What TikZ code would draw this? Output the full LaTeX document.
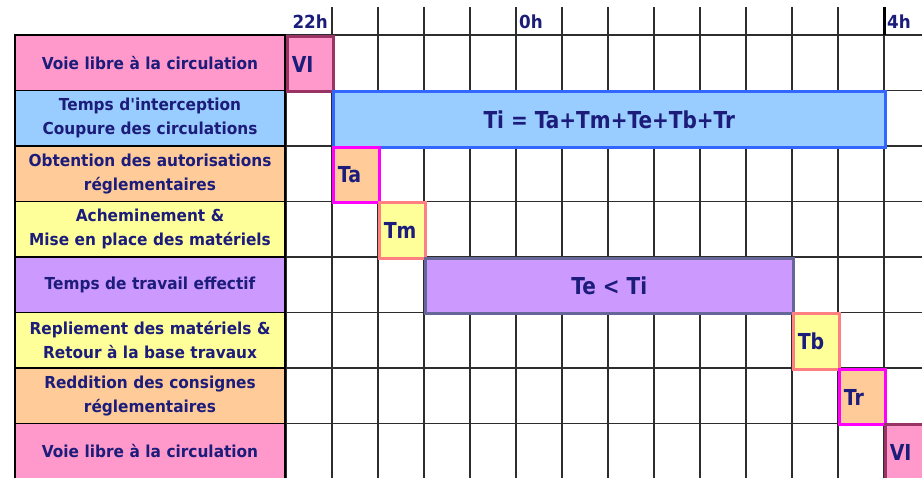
\documentclass[tikz,border=0pt]{standalone}
\usepackage{fontspec}
\newfontfamily\labfont{DejaVu Sans Bold}[FakeStretch=0.93]
\newfontfamily\barfont{DejaVu Sans Bold}[FakeStretch=0.86]
\definecolor{navytxt}{RGB}{28,28,122}
\definecolor{gridc}{RGB}{45,45,45}
\definecolor{pinkf}{RGB}{255,153,204}
\definecolor{pinkd}{RGB}{153,51,102}
\definecolor{bluef}{RGB}{153,204,255}
\definecolor{blued}{RGB}{51,102,255}
\definecolor{orangef}{RGB}{255,204,153}
\definecolor{magd}{RGB}{255,0,255}
\definecolor{yellowf}{RGB}{255,255,153}
\definecolor{salmond}{RGB}{255,128,128}
\definecolor{lavf}{RGB}{204,153,255}
\definecolor{slated}{RGB}{102,102,153}
\tikzset{
  gridline/.style={draw=gridc, line width=1.4pt},
  labbox/.style={draw=black, line width=1.4pt, minimum width=270, minimum height=55.5,
    text width=266, align=center, inner sep=0pt, text=navytxt,
    font={\labfont\fontsize{16.5}{24}\selectfont}},
  barbox/.style={line width=2.6pt, minimum height=55.5, anchor=north west, inner sep=0pt,
    text=navytxt, font={\barfont\fontsize{23.3}{26}\selectfont}},
  cellbox/.style={line width=2.6pt, minimum width=46, minimum height=55.5, anchor=north west,
    inner sep=0pt, text width=37, align=left, text=navytxt,
    font={\barfont\fontsize{22}{26}\selectfont}},
  hourlab/.style={inner sep=0pt, text=navytxt, font={\labfont\fontsize{18}{20}\selectfont}},
  vlcell/.style={cellbox, fill=pinkf, draw=pinkd},
  tacell/.style={cellbox, fill=orangef, draw=magd},
  tmcell/.style={cellbox, fill=yellowf, draw=salmond}
}
\begin{document}
\begin{tikzpicture}[x=1pt,y=-1pt]
\useasboundingbox (0,0) rectangle (922,478);
\fill[white] (0,0) rectangle (922,478);
% grid: horizontal lines
\draw[gridline] (15,35) -- (930,35);
\foreach \r in {1,...,7} {
  \draw[gridline] (285,{35+55.5*\r}) -- (930,{35+55.5*\r});
}
% grid: vertical lines in chart area
\draw[gridline] (286,35) -- (286,480);
\foreach \k in {0,...,12} {
  \draw[gridline] ({332+46*\k},7) -- ({332+46*\k},480);
}
% thicker hour ticks in header
\draw[draw=gridc, line width=2.2pt] (332,7) -- (332,35);
\draw[draw=gridc, line width=2.0pt] (516,7) -- (516,35);
\draw[draw=black, line width=3pt] (884,7) -- (884,35);
% hour labels
\node[hourlab, anchor=base east] (h22) at (328,29) {22h};
\node[hourlab, anchor=base west] (h0) at (519,29) {0h};
\node[hourlab, anchor=base west] (h4) at (887,29) {4h};
% label column
\node[labbox, fill=pinkf]   (l1) at (150,62.75)  {Voie libre à la circulation};
\node[labbox, fill=bluef]   (l2) at (150,118.25) {Temps d'interception\\Coupure des circulations};
\node[labbox, fill=orangef] (l3) at (150,173.75) {Obtention des autorisations\\réglementaires};
\node[labbox, fill=yellowf] (l4) at (150,229.25) {Acheminement \&\\Mise en place des matériels};
\node[labbox, fill=lavf]    (l5) at (150,284.75) {Temps de travail effectif};
\node[labbox, fill=yellowf] (l6) at (150,340.25) {Repliement des matériels \&\\Retour à la base travaux};
\node[labbox, fill=orangef] (l7) at (150,395.75) {Reddition des consignes\\réglementaires};
\node[labbox, fill=pinkf]   (l8) at (150,451.25) {Voie libre à la circulation};
% bars and cells
\node[vlcell] (vl1) at (286,35) {VI};
\node[barbox, fill=bluef, draw=blued, minimum width=552] (ti) at (332,90.5) {Ti = Ta+Tm+Te+Tb+Tr};
\node[tacell] (ta) at (332,146) {Ta};
\node[tmcell] (tm) at (378,201.5) {Tm};
\node[barbox, fill=lavf, draw=slated, minimum width=368] (te) at (424,257) {Te < Ti};
\node[tmcell] (tb) at (792,312.5) {Tb};
\node[tacell] (tr) at (838,368) {Tr};
\node[vlcell] (vl2) at (884,423.5) {VI};
\end{tikzpicture}
\end{document}
